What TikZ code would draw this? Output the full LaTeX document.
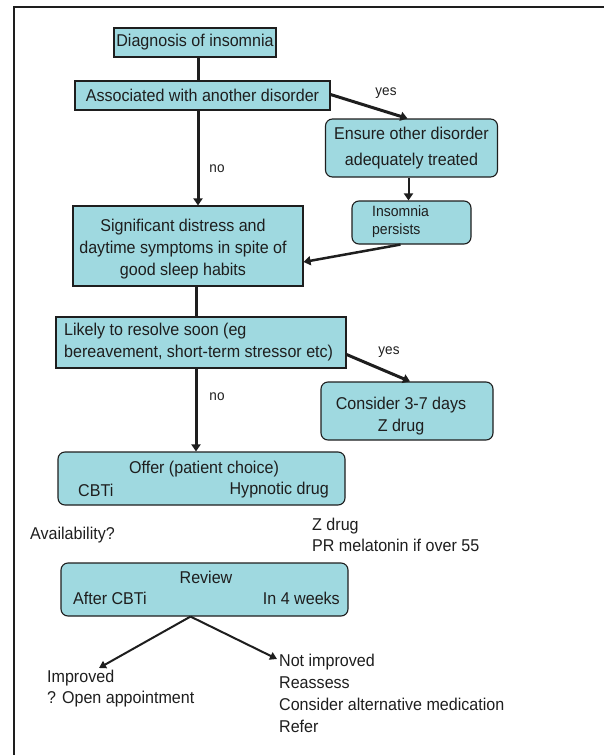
\documentclass[tikz,border=0pt]{standalone}
\usepackage{fontspec}
\setmainfont{Liberation Sans}[FakeStretch=0.94]
\usetikzlibrary{arrows.meta}
\definecolor{boxcol}{RGB}{159,217,224}
\definecolor{ink}{RGB}{30,30,30}
\begin{document}
\begin{tikzpicture}[x=1pt,y=-1pt,
  every node/.style={text=ink, font=\fontsize{17.1}{22}\selectfont},
  box/.style={draw=ink, fill=boxcol, line width=1.1pt, inner sep=0pt},
  rbox/.style={box, rounded corners=7pt},
  txt/.style={inner sep=0pt},
  lbl/.style={inner sep=0pt, font=\fontsize{14.4}{16}\selectfont},
  thick line/.style={draw=ink, line width=3pt},
  arr/.style={draw=ink, line width=3pt, -{Triangle[length=7pt,width=9pt]}},
  thinarr/.style={draw=ink, line width=2pt, -{Triangle[length=7pt,width=8pt]}},
  frameline/.style={draw=ink, line width=2pt}
]
\useasboundingbox (0,0) rectangle (603,755);
% frame
\coordinate (fTL) at (14,7);
\coordinate (fTR) at (604,7);
\coordinate (fBL) at (14,756);
\draw[frameline] (fTR) -- (fTL) -- (fBL);

% boxes
\node[box, minimum width=162pt, minimum height=29pt] (diag) at (195,42.5) {Diagnosis of insomnia};
\node[box, minimum width=255pt, minimum height=29pt] (assoc) at (202.5,95.5) {Associated with another disorder};
\node[rbox, minimum width=172pt, minimum height=58pt, align=center, font=\fontsize{17.1}{26}\selectfont] (ensure) at (411.5,148) {Ensure other disorder\\adequately treated};
\node[rbox, minimum width=119pt, minimum height=43pt] (persists) at (411.5,222.5) {};
\node[txt, align=left, anchor=west, font=\fontsize{14.9}{18}\selectfont] (persiststxt) at (372,222) {Insomnia\\persists};
\node[box, minimum width=230pt, minimum height=80pt] (sig) at (188,246) {};
\node[txt, align=center] (sigtxt) at (183,249) {Significant distress and\\daytime symptoms in spite of\\good sleep habits};
\node[box, minimum width=290pt, minimum height=51pt] (likely) at (201,342.5) {};
\node[txt, align=left, anchor=west] (likelytxt) at (64,342) {Likely to resolve soon (eg\\bereavement, short-term stressor etc)};
\node[rbox, minimum width=172pt, minimum height=58pt] (consider) at (407,411) {};
\node[txt, align=center] (considertxt) at (401,416) {Consider 3-7 days\\Z drug};
\node[rbox, minimum width=287pt, minimum height=53pt] (offer) at (201.5,478.5) {};
\node[txt] (offertxt) at (204,469) {Offer (patient choice)};
\node[txt, anchor=west] (cbti) at (78,490) {CBTi};
\node[txt, anchor=east] (hypno) at (329,490) {Hypnotic drug};
\node[txt, anchor=west] (avail) at (30,535) {Availability?};
\node[txt, anchor=west, align=left, font=\fontsize{17.1}{20.5}\selectfont] (zdrug) at (312,535) {Z drug\\PR melatonin if over 55};
\node[rbox, minimum width=287pt, minimum height=53pt] (review) at (204.5,589.5) {};
\node[txt] (reviewtxt) at (206,577) {Review};
\node[txt, anchor=west] (after) at (73,598) {After CBTi};
\node[txt, anchor=east] (weeks) at (340,598) {In 4 weeks};
\node[txt, anchor=north west, align=left, font=\fontsize{17.1}{20.5}\selectfont] (impr) at (47,670) {Improved\\? Open appointment};
\node[txt, anchor=north west, align=left, font=\fontsize{17.1}{21.8}\selectfont] (notimpr) at (279,654) {Not improved\\Reassess\\Consider alternative medication\\Refer};

% labels
\node[lbl] (yes1) at (386,93) {yes};
\node[lbl] (no1) at (217,169) {no};
\node[lbl] (yes2) at (389,352) {yes};
\node[lbl] (no2) at (217,397) {no};

% trunks
\coordinate (t1) at (198,0);
\coordinate (t2) at (196,0);
\draw[thick line] (diag.south -| t1) -- (assoc.north -| t1);
\draw[arr] (assoc.south -| t1) -- (sig.north -| t1);
\draw[thick line] (sig.south -| t2) -- (likely.north -| t2);
\draw[arr] (likely.south -| t2) -- (offer.north -| t2);

% side branches
\draw[arr] ([yshift=1pt]assoc.east) -- ([xshift=-4pt]ensure.north);
\draw[arr, line width=2pt] ([xshift=-3pt]ensure.south) -- ([xshift=-3pt]persists.north);
\draw[arr, line width=2.5pt] ([xshift=-11pt]persists.south) -- ([yshift=-16pt]sig.east);
\draw[arr] ([yshift=-12pt]likely.east) -- ([xshift=3pt]consider.north);

% review branches
\draw[thinarr] ([xshift=-14pt]review.south) -- ([xshift=52pt,yshift=2pt]impr.north west);
\draw[thinarr] ([xshift=-14pt]review.south) -- ([xshift=-2pt,yshift=-5pt]notimpr.north west);
\end{tikzpicture}
\end{document}
